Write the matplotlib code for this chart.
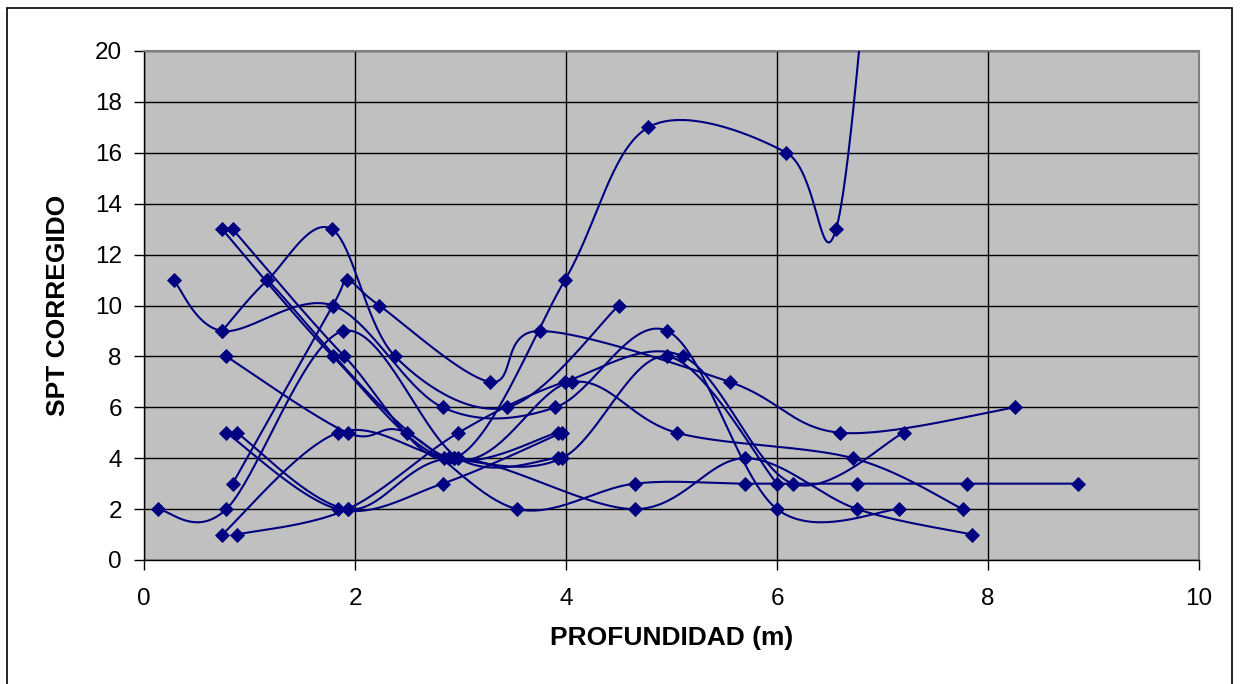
import numpy as np
import matplotlib
matplotlib.use('Agg')
from matplotlib import pyplot as plt
from matplotlib.patches import Rectangle

# profundidad (m) y SPT corregido de cada sondeo
prof_1 = [0.74, 1.79, 2.84, 3.92]
spt_1 = [13, 8, 4, 5]
prof_2 = [0.84, 1.90, 2.94, 3.99, 4.78, 6.09, 6.56, 6.95]
spt_2 = [13, 8, 4, 11, 17, 16, 13, 28]
prof_3 = [0.28, 0.74, 1.79, 2.83, 3.90, 4.96, 6.00, 7.16]
spt_3 = [11, 9, 10, 6, 6, 9, 2, 2]
prof_4 = [0.84, 1.79, 1.92, 2.23, 3.28, 3.75, 5.55, 6.60, 8.26]
spt_4 = [3, 10, 11, 10, 7, 9, 7, 5, 6]
prof_5 = [0.74, 1.17, 1.78, 2.38, 3.44, 4.50]
spt_5 = [9, 11, 13, 8, 6, 10]
prof_6 = [0.88, 1.93, 2.98, 3.99, 5.11, 6.15, 7.20]
spt_6 = [1, 2, 5, 7, 8, 3, 5]
prof_7 = [0.78, 1.93, 2.49, 3.54, 4.65, 5.70, 6.76, 7.80, 8.85]
spt_7 = [8, 5, 5, 2, 3, 3, 3, 3, 3]
prof_8 = [0.74, 1.84, 2.89, 3.96, 4.96, 6.00]
spt_8 = [1, 5, 4, 4, 8, 3]
prof_9 = [0.78, 1.84, 2.83, 3.96]
spt_9 = [5, 2, 3, 5]
prof_10 = [0.88, 1.93, 2.94, 4.65, 5.70, 6.76, 7.85]
spt_10 = [5, 2, 4, 2, 4, 2, 1]
prof_11 = [1.17, 2.89, 4.06, 5.05, 6.72, 7.76]
spt_11 = [11, 4, 7, 5, 4, 2]
prof_12 = [0.13, 0.78, 1.89, 2.98, 3.92]
spt_12 = [2, 2, 9, 4, 4]

sondeos = [
    (prof_1, spt_1), (prof_2, spt_2), (prof_3, spt_3), (prof_4, spt_4),
    (prof_5, spt_5), (prof_6, spt_6), (prof_7, spt_7), (prof_8, spt_8),
    (prof_9, spt_9), (prof_10, spt_10), (prof_11, spt_11), (prof_12, spt_12),
]

COLOR = '#000080'


def suavizar(x, y, n=40):
    # curva suavizada tipo Excel (Catmull-Rom pasada a Bezier)
    p = np.column_stack([x, y]).astype(float)
    if len(p) < 3:
        return p[:, 0], p[:, 1]
    ext = np.vstack([p[0], p, p[-1]])
    t = np.linspace(0, 1, n)[:, None]
    partes = []
    for i in range(1, len(ext) - 2):
        p0, p1, p2, p3 = ext[i - 1], ext[i], ext[i + 1], ext[i + 2]
        c1 = p1 + (p2 - p0) / 6
        c2 = p2 - (p3 - p1) / 6
        seg = ((1 - t) ** 3 * p1 + 3 * (1 - t) ** 2 * t * c1
               + 3 * (1 - t) * t ** 2 * c2 + t ** 3 * p2)
        partes.append(seg if i == 1 else seg[1:])
    curva = np.vstack(partes)
    return curva[:, 0], curva[:, 1]


fig = plt.figure(figsize=(12.4, 6.84), dpi=100)
fig.patches.append(Rectangle((7 / 1240, -0.05), 1225 / 1240, 1.05 - 8 / 684,
                             transform=fig.transFigure, fill=False,
                             edgecolor='black', linewidth=1.2))
ax = fig.add_axes([144 / 1240, 1 - 560 / 684, 1055 / 1240, 509 / 684])
ax.set_facecolor('#C0C0C0')

for prof, spt in sondeos:
    xs, ys = suavizar(prof, spt)
    ax.plot(xs, ys, color=COLOR, linewidth=1.5, zorder=3)
    ax.plot(prof, spt, linestyle='none', marker='D', markersize=7.5,
            color=COLOR, markeredgewidth=0.6, zorder=4)

ax.set_xlim(0, 10)
ax.set_ylim(0, 20)
ax.set_xticks(range(0, 11, 2))
ax.set_yticks(range(0, 21, 2))
ax.grid(True, color='black', linewidth=1.0)
ax.set_axisbelow(True)
for lado in ('top', 'right'):
    ax.spines[lado].set_color('#808080')
    ax.spines[lado].set_linewidth(1.5)
for lado in ('left', 'bottom'):
    ax.spines[lado].set_color('black')
    ax.spines[lado].set_linewidth(1.0)

fuente = 'Liberation Sans'
ax.tick_params(axis='both', length=7, width=1, color='black', labelsize=17.5)
for lab in ax.get_xticklabels() + ax.get_yticklabels():
    lab.set_fontfamily(fuente)
ax.tick_params(axis='x', pad=13)
ax.tick_params(axis='y', pad=9)

ax.set_xlabel('PROFUNDIDAD (m)', fontsize=19, fontweight='bold', family=fuente, labelpad=12)
ax.set_ylabel('SPT CORREGIDO', fontsize=19, fontweight='bold', family=fuente, labelpad=18)

plt.savefig('out.png', dpi=100)
